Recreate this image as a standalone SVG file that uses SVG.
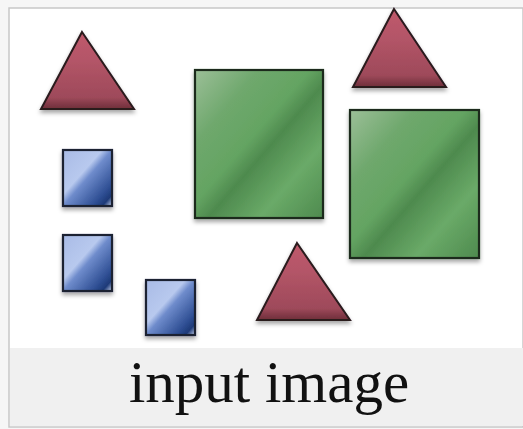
<svg xmlns="http://www.w3.org/2000/svg" width="523" height="429" viewBox="0 0 523 429">
<defs>
<style>
.tri{fill:url(#gTri);stroke:#2a1a1e;stroke-width:2;stroke-linejoin:miter;filter:url(#sh)}
.big{fill:url(#gGreen);stroke:#1e2a1e;stroke-width:2.2;filter:url(#sh)}
.sm{fill:url(#gBlue);stroke:#1c2230;stroke-width:2.2;filter:url(#sh)}
.cap{font-family:"Liberation Serif","Times New Roman",serif;font-size:59px;fill:#111}
</style>
<linearGradient id="gTri" x1="0" y1="0" x2="0" y2="1">
<stop offset="0" stop-color="#c05a6c"/>
<stop offset="0.35" stop-color="#b45568"/>
<stop offset="0.85" stop-color="#9e4a5a"/>
<stop offset="1" stop-color="#6e2e3a"/>
</linearGradient>
<linearGradient id="gGreen" x1="0" y1="0" x2="1" y2="1">
<stop offset="0" stop-color="#9cbf98"/>
<stop offset="0.25" stop-color="#6fa86d"/>
<stop offset="0.45" stop-color="#64a462"/>
<stop offset="0.55" stop-color="#4e8a4e"/>
<stop offset="0.75" stop-color="#6aaa68"/>
<stop offset="1" stop-color="#4e8a4e"/>
</linearGradient>
<linearGradient id="gBlue" x1="0" y1="0" x2="1" y2="1">
<stop offset="0" stop-color="#a9bbe6"/>
<stop offset="0.4" stop-color="#b8c9ee"/>
<stop offset="0.5" stop-color="#6f8ccc"/>
<stop offset="0.8" stop-color="#2f4f94"/>
<stop offset="0.9" stop-color="#1e3a78"/>
<stop offset="1" stop-color="#c8d4ee"/>
</linearGradient>
<filter id="sh" x="-20%" y="-20%" width="140%" height="150%">
<feDropShadow dx="0" dy="3" stdDeviation="2" flood-color="#000" flood-opacity="0.35"/>
</filter>
</defs>
<rect x="0" y="0" width="523" height="429" fill="#f6f6f6"/>
<rect x="9" y="8" width="514" height="419" fill="#ffffff" stroke="#c8c8c8" stroke-width="1.5"/>
<rect x="10" y="348" width="513" height="78" fill="#f0f0f0"/>
<g id="tri1"><polygon class="tri" points="82,32 134,109 41,109"/></g>
<g id="tri2"><polygon class="tri" points="394,9 446,87 353,87"/></g>
<g id="tri3"><polygon class="tri" points="297,243 350,320 257,320"/></g>
<g id="sq1"><rect class="big" x="195" y="70" width="128" height="148"/></g>
<g id="sq2"><rect class="big" x="350" y="110" width="129" height="148"/></g>
<g id="b1"><rect class="sm" x="63" y="150" width="49" height="56"/></g>
<g id="b2"><rect class="sm" x="63" y="235" width="49" height="56"/></g>
<g id="b3"><rect class="sm" x="146" y="280" width="49" height="55"/></g>
<g id="connectors"></g>
<g id="caption"><text class="cap" x="269" y="402" text-anchor="middle">input image</text></g>
</svg>
